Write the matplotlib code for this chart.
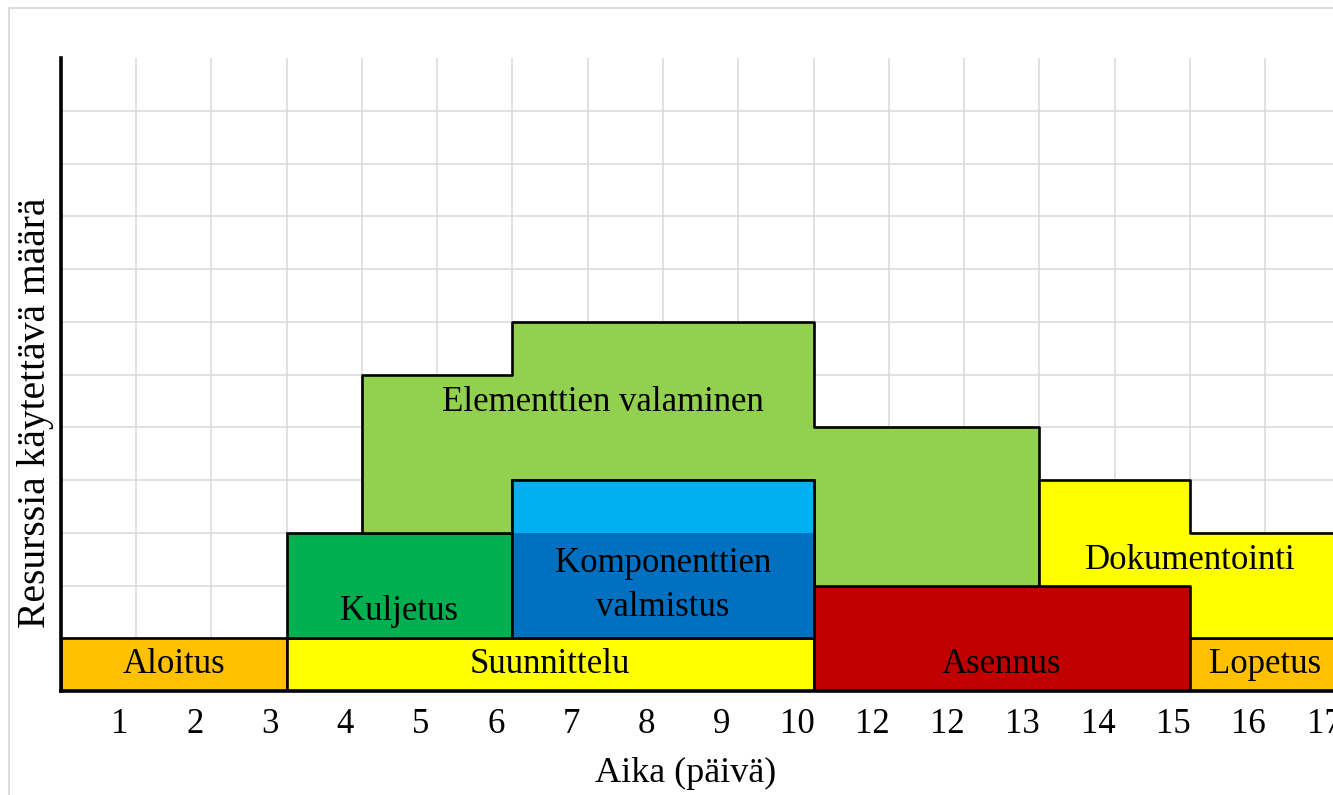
import numpy as np
import matplotlib
matplotlib.use("Agg")
import matplotlib.pyplot as plt
from matplotlib.patches import Rectangle

plt.rcParams["font.family"] = ["Liberation Serif", "DejaVu Serif"]

# -- data --
# simple rectangular tasks: (start day, end day, bottom level, top level)
aloitus = [0, 3, 0, 1]
suunnittelu = [3, 10, 0, 1]
asennus = [10, 15, 0, 2]
lopetus = [15, 17, 0, 1]
kuljetus = [3, 6, 1, 3]
komp_dark = [6, 10, 1, 3]
komp_light = [6, 10, 3, 4]

# stepped tasks
elem_x = [4, 6, 10, 13]
elem_top = [6, 7, 5, 5]
elem_bottom = [3, 4, 2, 2]
doku_x = [13, 15, 17]
doku_top = [4, 3, 3]
doku_bottom = [2, 1, 1]

tick_labels = ["1", "2", "3", "4", "5", "6", "7", "8", "9", "10",
               "12", "12", "13", "14", "15", "16", "17"]

c_orange = "#FFC000"
c_yellow = "#FFFF00"
c_green = "#00B050"
c_lgreen = "#92D050"
c_red = "#C00000"
c_dblue = "#0070C0"
c_lblue = "#00B0F0"

fig = plt.figure(figsize=(13.33, 7.95), dpi=100)
ax = fig.add_axes([0.0455, 0.1308, 0.9545, 0.7959])

# light frame around the picture
fig.patches.append(Rectangle((9 / 1333, -0.1), 2, 1.1 - 7.5 / 795, transform=fig.transFigure,
                             fill=False, edgecolor="#d4d4d4", linewidth=1.2))

ax.set_xlim(0, 16.9)
ax.set_ylim(0, 12)

# grid
for gx in range(1, 17):
    ax.axvline(gx, color="#d9d9d9", linewidth=1.1, zorder=0)
for gy in range(1, 12):
    ax.axhline(gy, color="#d9d9d9", linewidth=1.1, zorder=0)

lw = 1.9


def block(r, color, edge=True):
    ax.bar(r[0], r[3] - r[2], width=r[1] - r[0], bottom=r[2], align="edge",
           color=color, edgecolor="black" if edge else "none", linewidth=lw, zorder=2)


block(aloitus, c_orange)
block(suunnittelu, c_yellow)
block(asennus, c_red)
block(lopetus, c_orange)
block(kuljetus, c_green)

ax.fill_between(elem_x, elem_bottom, elem_top, step="post", facecolor=c_lgreen,
                edgecolor="black", linewidth=lw, zorder=2)
ax.fill_between(doku_x, doku_bottom, doku_top, step="post", facecolor=c_yellow,
                edgecolor="black", linewidth=lw, zorder=2)

block(komp_light, c_lblue, edge=False)
block(komp_dark, c_dblue, edge=False)
ax.bar(komp_dark[0], komp_light[3] - komp_dark[2], width=komp_dark[1] - komp_dark[0],
       bottom=komp_dark[2], align="edge", fill=False, edgecolor="black", linewidth=lw, zorder=3)

fs = 25
ax.text(1.5, 0.5, "Aloitus", ha="center", va="center", fontsize=fs, zorder=4)
ax.text(6.5, 0.5, "Suunnittelu", ha="center", va="center", fontsize=fs, zorder=4)
ax.text(12.5, 0.5, "Asennus", ha="center", va="center", fontsize=fs, zorder=4)
ax.text(16.0, 0.5, "Lopetus", ha="center", va="center", fontsize=fs, zorder=4)
ax.text(4.5, 1.5, "Kuljetus", ha="center", va="center", fontsize=fs, zorder=4)
ax.text(8.0, 2.0, "Komponenttien\nvalmistus", ha="center", va="center", fontsize=fs,
        linespacing=1.45, zorder=4)
ax.text(7.2, 5.47, "Elementtien valaminen", ha="center", va="center", fontsize=fs, zorder=4)
ax.text(15.0, 2.48, "Dokumentointi", ha="center", va="center", fontsize=fs, zorder=4)

# axes
for s in ["top", "right"]:
    ax.spines[s].set_visible(False)
for s in ["left", "bottom"]:
    ax.spines[s].set_linewidth(2.6)
    ax.spines[s].set_zorder(5)
ax.set_yticks([])
ax.set_xticks(np.arange(1, 18) - 0.22)
ax.set_xticklabels(tick_labels, fontsize=fs)
ax.tick_params(axis="x", length=0, pad=12)
ax.set_xlabel("Aika (päivä)", fontsize=26)
ax.xaxis.set_label_coords(0.4915, -0.104)
ax.set_ylabel("Resurssia käytettävä määrä", fontsize=28.5)
ax.yaxis.set_label_coords(-0.005, 0.44)

fig.savefig("out.png", dpi=100)
